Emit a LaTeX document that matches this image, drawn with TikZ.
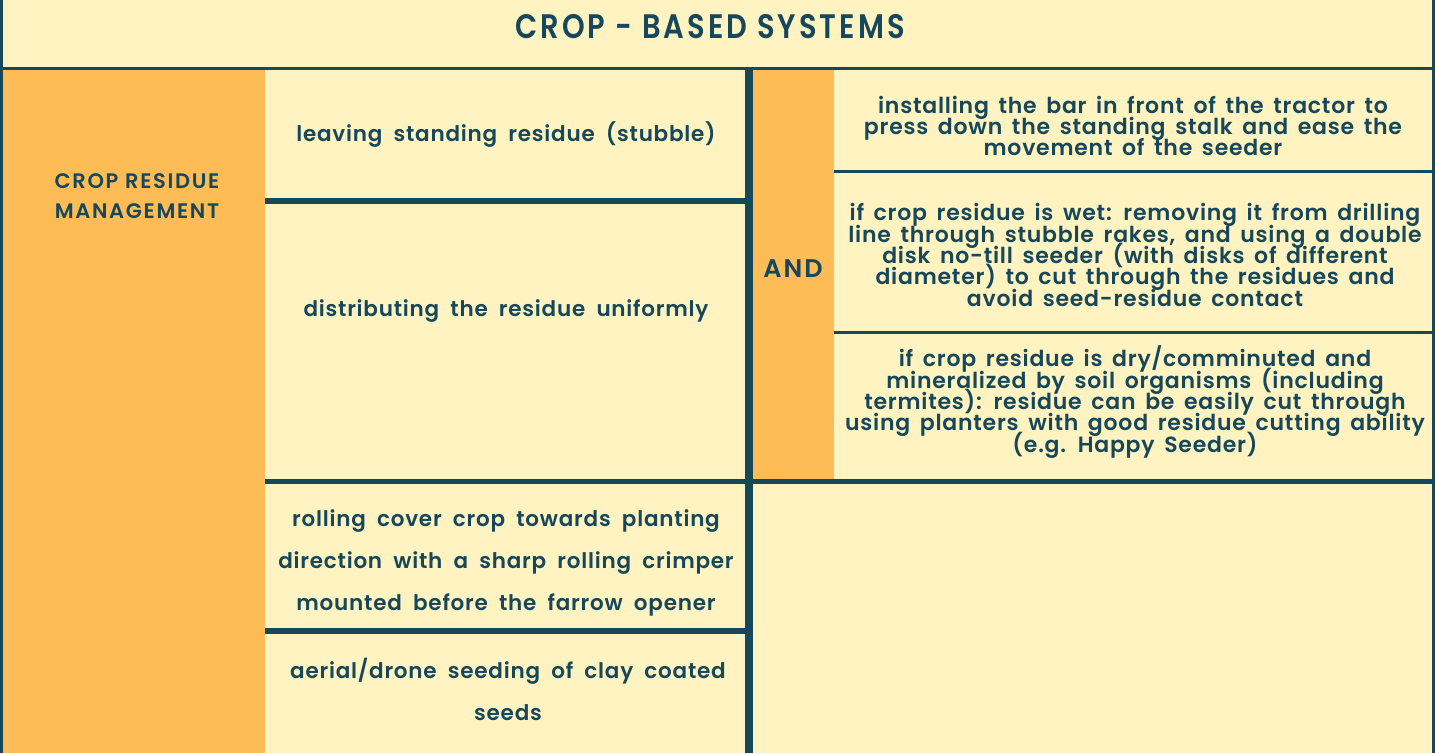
\documentclass[tikz,border=0pt]{standalone}
\usepackage{fontspec}
\setmainfont{Poppins}[UprightFont=* SemiBold, BoldFont=* Bold, LetterSpace=3.6, WordSpace=1.9]
\newfontfamily\rtfont{Poppins}[UprightFont=* SemiBold, LetterSpace=3.5, WordSpace=1.6]
\newfontfamily\hdrfont{Poppins}[UprightFont=* SemiBold, FakeStretch=0.85, LetterSpace=9]
\newfontfamily\capfont{Poppins}[UprightFont=* SemiBold, LetterSpace=8]
\newcommand\nolskip{\lineskiplimit=-100pt\relax}
\definecolor{dk}{HTML}{16475A}
\definecolor{bgy}{HTML}{FFF3C1}
\definecolor{org}{HTML}{FEBC57}
\tikzset{
  title/.style={text=dk, font=\hdrfont\fontsize{34}{34}\selectfont, inner sep=0pt},
  capl/.style={text=dk, font=\capfont\fontsize{21}{30}\selectfont, align=center, inner sep=0pt},
  andl/.style={text=dk, font=\capfont\fontsize{25.5}{30}\selectfont, inner sep=0pt},
  midt/.style={text=dk, font=\fontsize{21.5}{42}\selectfont\nolskip, align=center, inner sep=0pt},
  rtt/.style={text=dk, font=\rtfont\fontsize{22}{21.4}\selectfont\nolskip, align=center, inner sep=0pt},
  rule/.style={fill=dk},
}
\begin{document}
\begin{tikzpicture}[x=1pt,y=-1pt]
\useasboundingbox (0,0) rectangle (1435,753);
% backgrounds
\fill[bgy] (0,0) rectangle (1435,753);
\fill[org] (3,69) rectangle (265,753);
\fill[org] (752,69) rectangle (834,480);
% rules
\fill[rule] (0,0) rectangle (3,753);
\fill[rule] (1432,0) rectangle (1435,753);
\fill[rule] (0,67) rectangle (1435,70);
\fill[rule] (745,67) rectangle (752.5,753);
\fill[rule] (265,198) rectangle (745,204);
\fill[rule] (265,478.5) rectangle (1435,483.5);
\fill[rule] (265,628) rectangle (745,633.5);
\fill[rule] (834,169.5) rectangle (1435,172.5);
\fill[rule] (834,331) rectangle (1435,334);
% texts
\node[title] (title) at (710,27) {CROP - BASED SYSTEMS};
\node[capl] (crm) at (137,196) {CROP RESIDUE\\MANAGEMENT};
\node[andl] (and) at (793,269) {AND};
\node[midt] (m1) at (506,134) {leaving standing residue (stubble)};
\node[midt] (m2) at (506,311) {distributing the residue uniformly};
\node[midt] (m3) at (506,563) {rolling cover crop towards planting\\direction with a sharp rolling crimper\\mounted before the farrow opener};
\node[midt] (m4) at (508,689) {aerial/drone seeding of clay coated\\seeds};
\node[rtt] (r1) at (1133,126) {installing the bar in front of the tractor to\\press down the standing stalk and ease the\\movement of the seeder};
\node[rtt] (r2) at (1135,255) {if crop residue is wet: removing it from drilling\\line through stubble rakes, and using a double\\disk no-till seeder (with disks of different\\diameter) to cut through the residues and\\avoid seed-residue contact};
\node[rtt] (r3) at (1135,402) {if crop residue is dry/comminuted and\\mineralized by soil organisms (including\\termites): residue can be easily cut through\\using planters with good residue cutting ability\\(e.g. Happy Seeder)};
\end{tikzpicture}
\end{document}
